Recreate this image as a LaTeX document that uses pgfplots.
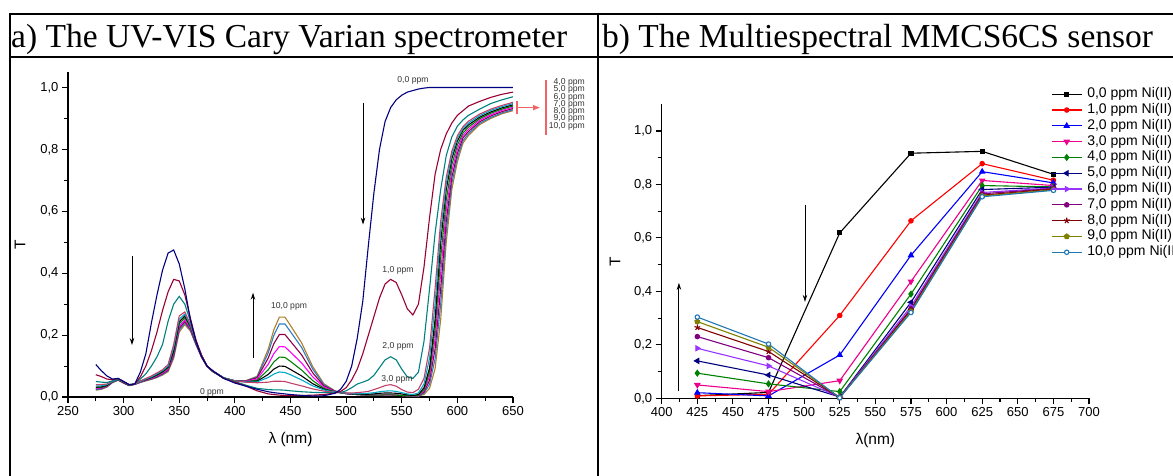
\documentclass[border=0pt]{standalone}
\usepackage{fontspec}
\setmainfont{Liberation Serif}
\newfontfamily\arial{Liberation Sans}
\usepackage{pgfplots}
\usepackage{pgfplotstable}
\pgfplotsset{compat=1.18}
\usetikzlibrary{arrows.meta,plotmarks}

\definecolor{c0}{HTML}{000080}
\definecolor{c1}{HTML}{990033}
\definecolor{c2}{HTML}{008080}
\definecolor{c3}{HTML}{C0406A}
\definecolor{c4}{HTML}{00A8C8}
\definecolor{c5}{HTML}{000000}
\definecolor{c6}{HTML}{008000}
\definecolor{c7}{HTML}{FF00FF}
\definecolor{c8}{HTML}{8B0045}
\definecolor{c9}{HTML}{2E7DC0}
\definecolor{c10}{HTML}{B07D2B}
\definecolor{bviolet}{HTML}{9933FF}
\definecolor{bpurple}{HTML}{800080}
\definecolor{bdred}{HTML}{800000}
\definecolor{bolive}{HTML}{808000}
\definecolor{bsteel}{HTML}{1F77B4}
\definecolor{bgreen}{HTML}{008000}
\definecolor{bnavy}{HTML}{000080}
\definecolor{redmark}{HTML}{F06464}

% UV-VIS spectra (T vs wavelength), one column per Ni(II) concentration
\pgfplotstableread{
l s0 s1 s2 s3 s4 s5 s6 s7 s8 s9 s10
275 0.105 0.072 0.050 0.040 0.036 0.032 0.030 0.028 0.026 0.024 0.022
280 0.085 0.066 0.048 0.040 0.036 0.033 0.031 0.029 0.028 0.026 0.025
285 0.068 0.058 0.047 0.042 0.040 0.038 0.036 0.035 0.034 0.033 0.032
290 0.058 0.056 0.052 0.052 0.050 0.050 0.049 0.048 0.048 0.047 0.047
295 0.060 0.060 0.058 0.058 0.057 0.057 0.056 0.056 0.055 0.055 0.054
300 0.050 0.050 0.050 0.048 0.048 0.047 0.047 0.046 0.046 0.045 0.045
305 0.040 0.040 0.040 0.039 0.039 0.038 0.038 0.038 0.037 0.037 0.037
310 0.042 0.042 0.042 0.042 0.042 0.042 0.042 0.041 0.041 0.041 0.041
315 0.080 0.065 0.058 0.052 0.050 0.050 0.049 0.048 0.048 0.047 0.047
320 0.140 0.100 0.075 0.060 0.058 0.057 0.056 0.055 0.054 0.053 0.052
325 0.240 0.150 0.100 0.068 0.065 0.063 0.062 0.060 0.059 0.058 0.057
330 0.330 0.210 0.130 0.078 0.075 0.072 0.070 0.068 0.066 0.064 0.063
335 0.410 0.280 0.170 0.088 0.085 0.082 0.080 0.077 0.075 0.073 0.071
340 0.465 0.340 0.245 0.105 0.100 0.097 0.094 0.090 0.087 0.085 0.082
345 0.475 0.380 0.300 0.170 0.160 0.150 0.145 0.140 0.135 0.130 0.125
350 0.430 0.375 0.325 0.262 0.252 0.243 0.236 0.228 0.222 0.216 0.210
355 0.350 0.330 0.300 0.275 0.268 0.262 0.256 0.249 0.244 0.239 0.234
360 0.250 0.255 0.245 0.235 0.232 0.229 0.226 0.222 0.219 0.216 0.213
365 0.180 0.185 0.180 0.180 0.178 0.176 0.175 0.173 0.172 0.170 0.169
370 0.130 0.135 0.135 0.135 0.134 0.133 0.132 0.131 0.130 0.130 0.129
375 0.100 0.100 0.100 0.100 0.100 0.100 0.100 0.099 0.099 0.099 0.098
380 0.085 0.085 0.085 0.084 0.084 0.084 0.083 0.083 0.083 0.082 0.082
390 0.060 0.060 0.062 0.062 0.062 0.062 0.061 0.061 0.061 0.061 0.061
400 0.045 0.048 0.050 0.052 0.052 0.052 0.052 0.052 0.052 0.052 0.052
410 0.035 0.035 0.038 0.048 0.049 0.049 0.050 0.051 0.052 0.052 0.053
420 0.025 0.020 0.028 0.046 0.049 0.051 0.054 0.058 0.062 0.065 0.067
430 0.017 0.010 0.024 0.048 0.063 0.073 0.088 0.106 0.126 0.143 0.155
435 0.014 0.008 0.023 0.051 0.074 0.090 0.113 0.140 0.172 0.199 0.217
440 0.012 0.006 0.023 0.051 0.081 0.100 0.129 0.163 0.202 0.236 0.258
445 0.010 0.005 0.022 0.050 0.079 0.099 0.128 0.162 0.202 0.236 0.258
450 0.008 0.005 0.020 0.045 0.072 0.089 0.115 0.145 0.180 0.211 0.231
460 0.005 0.005 0.017 0.036 0.055 0.068 0.087 0.110 0.136 0.160 0.175
470 0.003 0.006 0.015 0.026 0.036 0.043 0.053 0.065 0.078 0.090 0.098
480 0.004 0.008 0.014 0.019 0.023 0.025 0.028 0.032 0.036 0.040 0.043
490 0.012 0.013 0.014 0.015 0.016 0.016 0.017 0.018 0.019 0.019 0.020
495 0.025 0.018 0.015 0.014 0.014 0.014 0.014 0.014 0.014 0.014 0.014
500 0.050 0.030 0.020 0.013 0.012 0.012 0.011 0.011 0.011 0.011 0.011
505 0.100 0.055 0.030 0.013 0.011 0.010 0.010 0.009 0.009 0.009 0.009
510 0.190 0.090 0.042 0.014 0.010 0.009 0.008 0.008 0.008 0.008 0.008
515 0.310 0.140 0.048 0.016 0.011 0.009 0.007 0.007 0.007 0.007 0.007
520 0.490 0.200 0.055 0.018 0.012 0.009 0.006 0.006 0.006 0.006 0.006
525 0.660 0.260 0.070 0.024 0.014 0.010 0.006 0.006 0.006 0.006 0.006
530 0.800 0.320 0.095 0.030 0.017 0.012 0.006 0.006 0.006 0.006 0.006
535 0.890 0.365 0.120 0.037 0.019 0.013 0.007 0.007 0.007 0.007 0.007
540 0.935 0.380 0.130 0.040 0.020 0.013 0.007 0.007 0.007 0.007 0.007
545 0.960 0.370 0.120 0.035 0.018 0.012 0.006 0.006 0.006 0.006 0.006
550 0.975 0.330 0.090 0.024 0.014 0.010 0.005 0.005 0.005 0.005 0.005
555 0.985 0.285 0.065 0.016 0.010 0.007 0.004 0.004 0.004 0.004 0.004
560 0.990 0.265 0.060 0.014 0.008 0.005 0.003 0.003 0.003 0.003 0.003
565 0.995 0.300 0.080 0.025 0.013 0.008 0.006 0.005 0.004 0.003 0.003
570 0.998 0.420 0.180 0.060 0.042 0.030 0.024 0.020 0.016 0.012 0.008
575 1.000 0.580 0.350 0.158 0.126 0.094 0.080 0.067 0.054 0.041 0.028
580 1.000 0.720 0.530 0.352 0.302 0.252 0.220 0.188 0.156 0.124 0.092
585 1.000 0.800 0.670 0.568 0.534 0.500 0.450 0.400 0.350 0.300 0.250
590 1.000 0.850 0.780 0.710 0.690 0.670 0.636 0.602 0.568 0.534 0.500
595 1.000 0.885 0.840 0.794 0.782 0.770 0.750 0.730 0.710 0.690 0.670
600 1.000 0.910 0.875 0.844 0.835 0.827 0.814 0.800 0.787 0.773 0.760
605 1.000 0.925 0.895 0.873 0.867 0.862 0.853 0.845 0.837 0.828 0.820
610 1.000 0.940 0.910 0.891 0.885 0.879 0.872 0.865 0.858 0.851 0.845
620 1.000 0.955 0.930 0.914 0.909 0.904 0.899 0.894 0.889 0.884 0.880
630 1.000 0.968 0.948 0.930 0.926 0.921 0.917 0.912 0.908 0.903 0.900
640 1.000 0.978 0.960 0.942 0.938 0.934 0.930 0.926 0.922 0.918 0.915
650 1.000 0.985 0.970 0.952 0.948 0.944 0.940 0.936 0.932 0.928 0.925
}\uvvis

% multispectral sensor readings
\pgfplotstableread{
x t0 t1 t2 t3 t4 t5 t6 t7 t8 t9 t10
425 0.010 0.009 0.021 0.050 0.094 0.140 0.187 0.231 0.265 0.287 0.304
475 0.022 0.015 0.009 0.025 0.054 0.087 0.121 0.152 0.175 0.191 0.203
525 0.619 0.310 0.162 0.066 0.025 0.005 0.004 0.003 0.003 0.003 0.002
575 0.917 0.664 0.535 0.437 0.390 0.359 0.344 0.335 0.330 0.325 0.321
625 0.924 0.878 0.848 0.815 0.796 0.781 0.770 0.765 0.760 0.757 0.754
675 0.838 0.816 0.806 0.796 0.791 0.790 0.787 0.785 0.783 0.780 0.778
}\mmcs

\pgfplotsset{
  panel/.style={
    scale only axis,
    axis x line=bottom, axis y line=left,
    axis line style={line width=1.2pt,-},
    tick align=outside,
    major tick length=6pt, minor tick length=3.5pt,
    every tick/.style={black,line width=1.1pt},
    tick label style={font=\arial\fontsize{13}{15}\selectfont},
    /pgf/number format/assume math mode=true,
    yticklabel style={/pgf/number format/.cd,fixed,fixed zerofill,precision=1,use comma},
    xticklabel style={/pgf/number format/.cd,fixed,precision=0,1000 sep={}},
    label style={font=\arial\fontsize{15.5}{18}\selectfont},
    minor x tick num=1, minor y tick num=1,
    ytick={0,0.2,0.4,0.6,0.8,1.0},
    clip=false,
  },
}
\tikzset{
  note/.style={font=\arial\fontsize{8.6}{9}\selectfont,text=black!80,inner sep=0pt},
  arr/.style={-{Stealth[length=7pt,width=4.5pt]},line width=0.9pt},
}

\begin{document}
\begin{tikzpicture}
\useasboundingbox (0,0) rectangle (1173pt,475pt);

% ---- a) UV-VIS spectra
\begin{axis}[panel,
  at={(68pt,78pt)}, anchor=south west,
  width=445pt, height=325pt,
  xmin=250, xmax=650, ymin=0, ymax=1.05,
  xtick={250,300,...,650},
  xlabel={λ (nm)}, ylabel={T},
  xlabel style={at={(axis description cs:0.5,-0.132)},anchor=center},
  ylabel style={at={(axis description cs:-0.108,0.468)},anchor=center},
  every axis plot/.append style={line width=1.1pt,no markers},
]
\addplot[c10] table[x=l,y=s10]{\uvvis};
\addplot[c9] table[x=l,y=s9]{\uvvis};
\addplot[c8] table[x=l,y=s8]{\uvvis};
\addplot[c7] table[x=l,y=s7]{\uvvis};
\addplot[c6] table[x=l,y=s6]{\uvvis};
\addplot[c5] table[x=l,y=s5]{\uvvis};
\addplot[c4] table[x=l,y=s4]{\uvvis};
\addplot[c3] table[x=l,y=s3]{\uvvis};
\addplot[c2] table[x=l,y=s2]{\uvvis};
\addplot[c1] table[x=l,y=s1]{\uvvis};
\addplot[c0] table[x=l,y=s0]{\uvvis};

\node[note] at (axis cs:560.1,1.023) {0,0 ppm};
\node[note] at (axis cs:546.6,0.408) {1,0 ppm};
\node[note] at (axis cs:546.6,0.162) {2,0 ppm};
\node[note] at (axis cs:545.7,0.058) {3,0 ppm};
\node[note] at (axis cs:448.7,0.294) {10,0 ppm};
\node[note] at (axis cs:379.4,0.016) {0 ppm};
\node[note,anchor=east] at (axis cs:714.7,1.018) {4,0 ppm};
\node[note,anchor=east] at (axis cs:714.7,0.993) {5,0 ppm};
\node[note,anchor=east] at (axis cs:714.7,0.969) {6,0 ppm};
\node[note,anchor=east] at (axis cs:714.7,0.946) {7,0 ppm};
\node[note,anchor=east] at (axis cs:714.7,0.922) {8,0 ppm};
\node[note,anchor=east] at (axis cs:714.7,0.899) {9,0 ppm};
\node[note,anchor=east] at (axis cs:714.7,0.874) {10,0 ppm};
\draw[redmark,line width=1.5pt] (axis cs:679.7,1.023) -- (axis cs:679.7,0.845);
\draw[redmark,line width=1.3pt,-{Triangle[length=7pt,width=5pt]}] (axis cs:653.6,0.935) -- (axis cs:674.3,0.935);
\draw[redmark,line width=1.3pt] (axis cs:653.6,0.955) -- (axis cs:653.6,0.913);

\draw[arr] (axis cs:515.2,0.951) -- (axis cs:515.2,0.557);
\draw[arr] (axis cs:307.5,0.456) -- (axis cs:307.5,0.168);
\draw[arr] (axis cs:416.3,0.126) -- (axis cs:416.3,0.337);
\end{axis}

% ---- b) multispectral sensor
\begin{axis}[panel,
  at={(661.7pt,76.7pt)}, anchor=south west,
  width=427.3pt, height=294pt,
  xmin=400, xmax=700, ymin=0, ymax=1.1,
  xtick={400,425,...,700},
  xlabel={λ(nm)}, ylabel={T},
  xlabel style={at={(axis description cs:0.5,-0.142)},anchor=center},
  ylabel style={at={(axis description cs:-0.109,0.464)},anchor=center},
  every axis plot/.append style={line width=1.1pt,mark size=2.2pt},
  legend image code/.code={\draw[mark repeat=2,mark phase=2,#1] plot coordinates {(0pt,0pt) (15pt,0pt) (30pt,0pt)};},
  legend cell align=left,
  legend style={at={(rel axis cs:0.911,1.057)},anchor=north west,draw=none,fill=none,
    font=\arial\fontsize{14}{15.8}\selectfont,inner sep=0pt,row sep=2.8pt,column sep=3pt,
    nodes={inner xsep=2pt,inner ysep=0pt,text height=10pt,text depth=3pt}},
]
\addplot[black,mark=square*,mark size=2pt] table[x=x,y=t0]{\mmcs};
\addlegendentry{0,0 ppm Ni(II)}
\addplot[red,mark=*] table[x=x,y=t1]{\mmcs};
\addlegendentry{1,0 ppm Ni(II)}
\addplot[blue,mark=triangle*,mark size=2.8pt] table[x=x,y=t2]{\mmcs};
\addlegendentry{2,0 ppm Ni(II)}
\addplot[magenta,mark=triangle*,mark size=2.8pt,mark options={rotate=180}] table[x=x,y=t3]{\mmcs};
\addlegendentry{3,0 ppm Ni(II)}
\addplot[bgreen,mark=diamond*,mark size=2.8pt] table[x=x,y=t4]{\mmcs};
\addlegendentry{4,0 ppm Ni(II)}
\addplot[bnavy,mark=triangle*,mark size=2.8pt,mark options={rotate=90}] table[x=x,y=t5]{\mmcs};
\addlegendentry{5,0 ppm Ni(II)}
\addplot[bviolet,mark=triangle*,mark size=2.8pt,mark options={rotate=-90}] table[x=x,y=t6]{\mmcs};
\addlegendentry{6,0 ppm Ni(II)}
\addplot[bpurple,mark=*] table[x=x,y=t7]{\mmcs};
\addlegendentry{7,0 ppm Ni(II)}
\addplot[bdred,mark=star,mark size=3pt] table[x=x,y=t8]{\mmcs};
\addlegendentry{8,0 ppm Ni(II)}
\addplot[bolive,mark=pentagon*,mark size=2.5pt] table[x=x,y=t9]{\mmcs};
\addlegendentry{9,0 ppm Ni(II)}
\addplot[bsteel,mark=*,mark options={fill=white}] table[x=x,y=t10]{\mmcs};
\addlegendentry{10,0 ppm Ni(II)}

\draw[arr] (axis cs:412.1,0.027) -- (axis cs:412.1,0.432);
\draw[arr] (axis cs:500.6,0.725) -- (axis cs:500.6,0.361);
\end{axis}

% ---- table frame and headers
\draw[line width=1.8pt] (9pt,461pt) -- (1176pt,461pt);
\draw[line width=1.8pt] (9pt,417.7pt) -- (1176pt,417.7pt);
\draw[line width=1.8pt] (10pt,461.9pt) -- (10pt,-3pt);
\draw[line width=1.8pt] (598pt,461.9pt) -- (598pt,-3pt);
\node[anchor=base west,inner sep=0pt,font=\fontsize{33.5}{40}\selectfont] at (11pt,427.3pt) {a) The UV-VIS Cary Varian spectrometer};
\node[anchor=base west,inner sep=0pt,font=\fontsize{33.5}{40}\selectfont] at (602pt,427.3pt) {b) The Multiespectral MMCS6CS sensor};
\end{tikzpicture}
\end{document}
